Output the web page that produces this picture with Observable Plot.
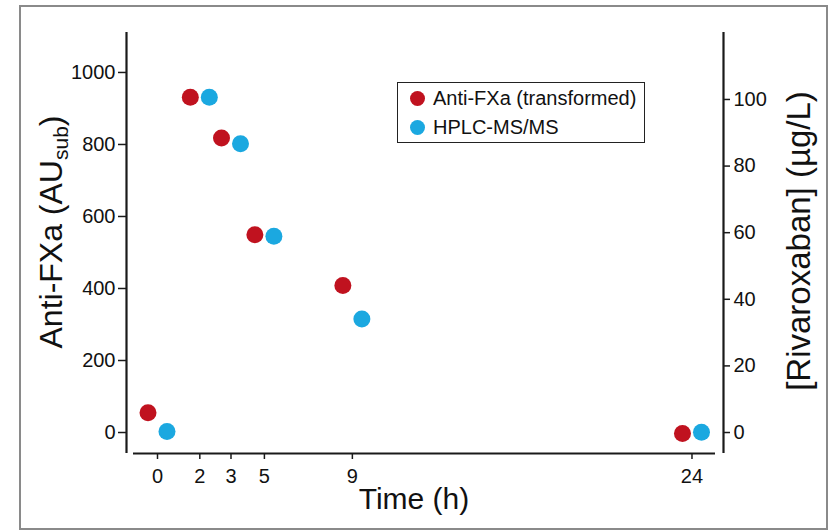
<!DOCTYPE html>
<html>
<head>
<meta charset="utf-8">
<script src="https://cdn.jsdelivr.net/npm/d3@7"></script>
<script src="https://cdn.jsdelivr.net/npm/@observablehq/plot@0.6"></script>
<style>
  html, body { margin: 0; padding: 0; background: #fff; }
  body { width: 837px; height: 532px; position: relative; overflow: hidden; font-family: "Liberation Sans", Arial, Helvetica, sans-serif; }
  #frame { position: absolute; left: 19px; top: 5px; width: 805px; height: 521px; border: 2px solid #8a8a8a; }
  #chart { position: absolute; left: 0; top: 0; }
  #legend { position: absolute; left: 397px; top: 82px; width: 246px; height: 59px; border: 1.5px solid #222; background: #fff; }
  .row { position: absolute; left: 0; height: 24px; display: flex; align-items: center; font-size: 20px; color: #111; white-space: nowrap; }
  .sw { width: 15px; height: 15px; border-radius: 50%; margin-left: 12px; margin-right: 8px; }
</style>
</head>
<body>
<div id="frame"></div>
<div id="chart"></div>
<div id="legend"></div>
<script>
// ---- data ----
const times = [0, 1.9, 3.3, 4.8, 8.75, 24];          // sampling time (h)
const timeLabels = ["0", "2", "3", "5", "9", "24"];   // x tick labels
const antiFXa = [55, 931, 818, 549, 408, -3];          // AU_sub (left axis)
const hplc = [0.3, 100.7, 86.7, 58.9, 34.1, 0.1];      // µg/L (right axis)
const leftTicks = [0, 200, 400, 600, 800, 1000];
const rightTicks = [0, 20, 40, 60, 80, 100];
const seriesNames = ["Anti-FXa (transformed)", "HPLC-MS/MS"];
const seriesColors = ["#c0121f", "#1ba8e0"];

// axis alignment: 1 µg/L on the right axis equals K AU on the left axis
const K = 9.25;
const xDomain = [-1.392, 25.415];
const yDomain = [-58.3, 1111];

const redData = times.map((t, i) => ({t, v: antiFXa[i]}));
const blueData = times.map((t, i) => ({t, v: hplc[i] * K}));

const font = '"Liberation Sans", Arial, Helvetica, sans-serif';

const plot = Plot.plot({
  width: 837,
  height: 532,
  marginLeft: 126,
  marginRight: 114,
  marginTop: 32,
  marginBottom: 79,
  style: { fontFamily: font, fontSize: "20px", color: "#111", background: "transparent" },
  x: { type: "linear", domain: xDomain },
  y: { type: "linear", domain: yDomain },
  marks: [
    Plot.ruleX([xDomain[0]], { stroke: "#1a1a1a", strokeWidth: 2.2 }),
    Plot.ruleX([xDomain[1]], { stroke: "#1a1a1a", strokeWidth: 2.2 }),
    Plot.ruleY([yDomain[0]], { stroke: "#1a1a1a", strokeWidth: 2.2, insetLeft: 7, insetRight: 8 }),
    Plot.axisY(leftTicks, { anchor: "left", tickSize: 8, tickPadding: 3, label: null, tickFormat: d => String(d), stroke: "#1a1a1a", strokeWidth: 1.5, fontSize: 20 }),
    Plot.axisY(rightTicks.map(v => v * K), { anchor: "right", tickSize: 6, tickPadding: 4, label: null, tickFormat: d => String(Math.round(d / K)), stroke: "#1a1a1a", strokeWidth: 1.5, fontSize: 20 }),
    Plot.axisX(times, { anchor: "bottom", tickSize: 6, tickPadding: 9, label: null, tickFormat: d => timeLabels[times.indexOf(d)], stroke: "#1a1a1a", strokeWidth: 1.5, fontSize: 20 }),
    Plot.dot(redData, { x: "t", y: "v", r: 8.5, fill: seriesColors[0], dx: -9.5 }),
    Plot.dot(blueData, { x: "t", y: "v", r: 8.5, fill: seriesColors[1], dx: 9.5 })
  ]
});
document.getElementById("chart").appendChild(plot);

// axis titles
const svg = d3.select(plot);
const lt = svg.append("text")
  .attr("transform", "translate(62,232) rotate(-90)")
  .attr("text-anchor", "middle")
  .attr("font-family", font)
  .attr("font-size", 32)
  .attr("fill", "#111");
lt.append("tspan").text("Anti-FXa (AU");
lt.append("tspan").text("sub").attr("font-size", 21).attr("dy", 6);
lt.append("tspan").text(")").attr("dy", -6);

svg.append("text")
  .attr("transform", "translate(810,241) rotate(-90)")
  .attr("text-anchor", "middle")
  .attr("font-family", font)
  .attr("font-size", 33)
  .attr("fill", "#111")
  .text("[Rivaroxaban] (µg/L)");

svg.append("text")
  .attr("x", 414).attr("y", 509)
  .attr("text-anchor", "middle")
  .attr("font-family", font)
  .attr("font-size", 30)
  .attr("fill", "#111")
  .text("Time (h)");

// legend
const legend = document.getElementById("legend");
seriesNames.forEach((name, i) => {
  const row = document.createElement("div");
  row.className = "row";
  row.style.top = (i === 0 ? 3 : 32) + "px";
  const sw = document.createElement("span");
  sw.className = "sw";
  sw.style.background = seriesColors[i];
  const tx = document.createElement("span");
  tx.textContent = name;
  row.appendChild(sw);
  row.appendChild(tx);
  legend.appendChild(row);
});
</script>
</body>
</html>
